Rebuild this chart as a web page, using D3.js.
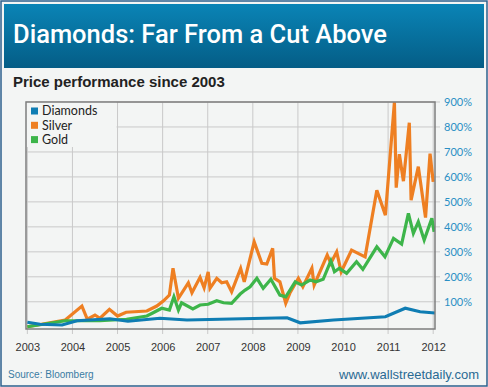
<!DOCTYPE html>
<html lang="en">
    <head>
        <title>Diamonds: Far From a Cut Above</title>
        <script src="https://d3js.org/d3.v7.min.js"></script>
        <style>
            body { margin: 0; background: #fff; }
        </style>
    </head>
    <body>
    <div id="mainDiv"></div>

        <script type="text/javascript">
            const width = 488
            const height = 387

            // values: [year, % change since 2003]
            const diamonds = [
                [2003.0, 18], [2003.28, 10], [2003.77, 7], [2004.10, 24], [2004.83, 32],
                [2005.23, 22], [2005.94, 34], [2006.54, 27], [2007.27, 30], [2008.76, 36],
                [2009.05, 16], [2009.79, 27], [2010.94, 40], [2011.38, 74], [2011.71, 60],
                [2012.04, 55]
            ]
            const silver = [
                [2003.0, 0], [2003.84, 27], [2004.21, 83], [2004.33, 30], [2004.50, 47],
                [2004.61, 34], [2004.82, 70], [2005.00, 43], [2005.19, 58], [2005.65, 63],
                [2005.87, 83], [2006.02, 104], [2006.15, 127], [2006.23, 234], [2006.35, 114],
                [2006.57, 176], [2006.65, 136], [2006.83, 198], [2006.92, 156], [2007.01, 220],
                [2007.05, 154], [2007.20, 194], [2007.31, 176], [2007.42, 180], [2007.53, 140],
                [2007.73, 234], [2007.81, 180], [2008.03, 340], [2008.20, 254], [2008.31, 251],
                [2008.44, 314], [2008.48, 194], [2008.60, 180], [2008.73, 94], [2008.82, 134],
                [2009.01, 194], [2009.11, 160], [2009.31, 234], [2009.36, 167], [2009.65, 287],
                [2009.73, 254], [2009.86, 300], [2009.96, 220], [2010.19, 307], [2010.49, 280],
                [2010.75, 547], [2010.94, 447], [2011.14, 899], [2011.18, 557], [2011.25, 691],
                [2011.34, 583], [2011.47, 817], [2011.51, 507], [2011.67, 641], [2011.83, 437],
                [2011.93, 693], [2012.00, 580]
            ]
            const gold = [
                [2003.0, 0], [2003.84, 24], [2004.61, 24], [2005.20, 30], [2005.65, 43],
                [2005.79, 56], [2005.98, 74], [2006.15, 67], [2006.25, 120], [2006.35, 67],
                [2006.42, 96], [2006.67, 71], [2006.83, 87], [2007.01, 90], [2007.20, 104],
                [2007.35, 96], [2007.53, 94], [2007.72, 131], [2007.83, 147], [2007.94, 160],
                [2008.09, 194], [2008.23, 154], [2008.40, 190], [2008.60, 127], [2008.73, 120],
                [2008.94, 180], [2009.08, 167], [2009.27, 187], [2009.40, 180], [2009.56, 190],
                [2009.73, 264], [2009.81, 220], [2009.92, 234], [2010.08, 214], [2010.30, 260],
                [2010.44, 230], [2010.75, 320], [2010.93, 280], [2011.12, 354], [2011.30, 331],
                [2011.45, 454], [2011.56, 374], [2011.67, 420], [2011.80, 347], [2011.97, 434],
                [2012.02, 380]
            ]
            const yearTicks = [2003, 2004, 2005, 2006, 2007, 2008, 2009, 2010, 2011, 2012]
            const pctTicks = [100, 200, 300, 400, 500, 600, 700, 800, 900]
            const seriesNames = ['Diamonds', 'Silver', 'Gold']
            const seriesColors = ['#0f7db3', '#ee7f22', '#3db54a']

            const plot = { left: 26, right: 435, top: 102, bottom: 329 }

            const svg = d3.select('#mainDiv').append('svg')
                .attr('width', width)
                .attr('height', height)

            // background + frame
            svg.append('rect')
                .attr('x', 1).attr('y', 1)
                .attr('width', width - 2).attr('height', height - 2)
                .attr('fill', '#f3f5f4')
                .attr('stroke', '#2c5f8c')
                .attr('stroke-width', 1.5)

            const grad = svg.append('defs').append('linearGradient')
                .attr('id', 'hdr').attr('x1', 0).attr('y1', 0).attr('x2', 0).attr('y2', 1)
            grad.append('stop').attr('offset', '0%').attr('stop-color', '#0a84b6')
            grad.append('stop').attr('offset', '100%').attr('stop-color', '#045d86')

            svg.append('rect')
                .attr('x', 4).attr('y', 4)
                .attr('width', width - 8).attr('height', 64)
                .attr('fill', 'url(#hdr)')

            svg.append('text')
                .attr('x', 13).attr('y', 43)
                .attr('fill', '#fff')
                .style('font-family', 'Roboto, sans-serif')
                .style('font-weight', 500)
                .style('font-size', '25.5px')
                .text('Diamonds: Far From a Cut Above')

            svg.append('text')
                .attr('x', 13).attr('y', 87)
                .attr('fill', '#222')
                .style('font-family', '"Liberation Sans", Arial, sans-serif')
                .style('font-weight', 'bold')
                .style('font-size', '15px')
                .text('Price performance since 2003')

            const xScale = d3.scaleLinear()
                .domain([2002.97, 2012.04])
                .range([plot.left, plot.right])

            const yScale = d3.scaleLinear()
                .domain([-9, 900])
                .range([plot.bottom, plot.top])

            const group = svg.append('g')

            // grid
            group.selectAll('.vgrid')
                .data(yearTicks)
                .enter()
                .append('line')
                .attr('x1', d => xScale(d)).attr('x2', d => xScale(d))
                .attr('y1', plot.top).attr('y2', plot.bottom + 5)
                .attr('stroke', '#c9c9c9')
                .attr('stroke-width', 1)

            group.selectAll('.hgrid')
                .data(pctTicks)
                .enter()
                .append('line')
                .attr('x1', plot.left).attr('x2', plot.right + 5)
                .attr('y1', d => yScale(d)).attr('y2', d => yScale(d))
                .attr('stroke', '#c9c9c9')
                .attr('stroke-width', 1)

            // legend box hides the grid behind it
            group.append('rect')
                .attr('x', plot.left).attr('y', plot.top)
                .attr('width', xScale(2005) - plot.left - 1)
                .attr('height', 45)
                .attr('fill', '#f3f5f4')

            // x axis labels
            const xAxis = d3.axisBottom(xScale)
                .tickValues(yearTicks)
                .tickFormat(d3.format('d'))
                .tickSize(0)
                .tickPadding(14)
            const gx = group.append('g')
                .attr('transform', `translate(0, ${plot.bottom})`)
                .call(xAxis)
            gx.select('.domain').remove()
            gx.selectAll('text')
                .attr('fill', '#333')
                .style('font-family', '"Liberation Sans", Arial, sans-serif')
                .style('font-size', '11px')

            // y axis labels on the right
            const yAxis = d3.axisRight(yScale)
                .tickValues(pctTicks)
                .tickFormat(d => d + '%')
                .tickSize(0)
                .tickPadding(9)
            const gy = group.append('g')
                .attr('transform', `translate(${plot.right}, 0)`)
                .call(yAxis)
            gy.select('.domain').remove()
            gy.selectAll('text')
                .attr('fill', '#2a8fc4')
                .style('font-family', 'Lato, sans-serif')
                .style('font-size', '11px')

            // lines
            const line = d3.line()
                .x(d => xScale(d[0]))
                .y(d => yScale(d[1]))

            const clip = svg.append('clipPath').attr('id', 'plotClip')
            clip.append('rect')
                .attr('x', plot.left).attr('y', plot.top)
                .attr('width', plot.right - plot.left)
                .attr('height', plot.bottom - plot.top)

            const lines = group.append('g').attr('clip-path', 'url(#plotClip)')
            const allSeries = [silver, gold, diamonds]
            const allColors = [seriesColors[1], seriesColors[2], seriesColors[0]]
            allSeries.forEach((s, i) => {
                lines.append('path')
                    .datum(s)
                    .attr('d', line)
                    .attr('fill', 'none')
                    .attr('stroke', allColors[i])
                    .attr('stroke-width', 3.2)
                    .attr('stroke-linejoin', 'miter')
            })

            // plot border
            group.append('rect')
                .attr('x', plot.left).attr('y', plot.top)
                .attr('width', plot.right - plot.left)
                .attr('height', plot.bottom - plot.top)
                .attr('fill', 'none')
                .attr('stroke', '#7d7d7d')
                .attr('stroke-width', 1.5)

            // legend
            const legend = group.selectAll('.legend')
                .data(seriesNames)
                .enter()
                .append('g')
                .attr('transform', (d, i) => `translate(31, ${111 + i * 14.3})`)
            legend.append('rect')
                .attr('x', 0).attr('y', -3.5)
                .attr('width', 7).attr('height', 7)
                .attr('fill', (d, i) => seriesColors[i])
            legend.append('text')
                .attr('x', 11).attr('y', 4.3)
                .attr('fill', '#222')
                .style('font-family', 'Lato, sans-serif')
                .style('font-size', '12.5px')
                .text(d => d)

            // footer
            svg.append('text')
                .attr('x', 8).attr('y', 378)
                .attr('fill', '#3b7ca3')
                .style('font-family', '"Liberation Sans", Arial, sans-serif')
                .style('font-size', '10px')
                .text('Source: Bloomberg')

            svg.append('text')
                .attr('x', 479).attr('y', 379)
                .attr('text-anchor', 'end')
                .attr('fill', '#2a6a93')
                .style('font-family', '"Liberation Sans", Arial, sans-serif')
                .style('font-size', '13px')
                .text('www.wallstreetdaily.com')
        </script>
    </body>
</html>
